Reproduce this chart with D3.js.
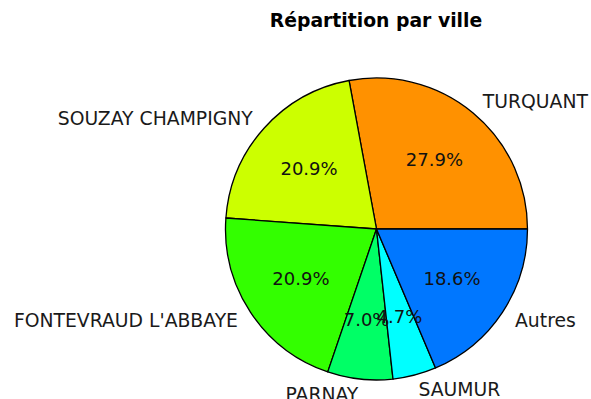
<!DOCTYPE html>
<html>
<head>
<meta charset="utf-8">
<script src="https://cdn.jsdelivr.net/npm/d3@7"></script>
<style>
  html, body { margin: 0; padding: 0; background: #fff; }
  svg { display: block; }
</style>
</head>
<body>
<svg id="chart" width="591" height="399"></svg>
<script>
// Number of records per town
const villes = ["TURQUANT", "SOUZAY CHAMPIGNY", "FONTEVRAUD L'ABBAYE", "PARNAY", "SAUMUR", "Autres"];
const effectifs = [12, 9, 9, 3, 2, 8];
const couleurs = ["#ff9100", "#ccff00", "#33ff00", "#00ff66", "#00ffff", "#0077ff"];
const titre = "Répartition par ville";

const svg = d3.select("#chart");
const cx = 376.5, cy = 229, r = 151;
const font = "DejaVu Sans, sans-serif";

svg.append("text")
  .attr("x", 376).attr("y", 27)
  .attr("text-anchor", "middle")
  .attr("font-family", font).attr("font-weight", "bold").attr("font-size", 18.8)
  .attr("fill", "#000")
  .text(titre);

// Slices run counter-clockwise starting at 3 o'clock
const pie = d3.pie().sort(null).value(d => d)
  .startAngle(Math.PI / 2).endAngle(Math.PI / 2 - 2 * Math.PI);
const arcs = pie(effectifs);
const total = d3.sum(effectifs);

const arc = d3.arc().innerRadius(0).outerRadius(r);
const g = svg.append("g").attr("transform", `translate(${cx},${cy})`);

g.selectAll("path").data(arcs).join("path")
  .attr("d", arc)
  .attr("fill", (d, i) => couleurs[i])
  .attr("stroke", "#000")
  .attr("stroke-width", 1.3)
  .attr("stroke-linejoin", "round");

const pos = (d, k) => {
  const a = (d.startAngle + d.endAngle) / 2; // d3 angle, clockwise from 12 o'clock
  return [k * r * Math.sin(a), -k * r * Math.cos(a)];
};

// Percentages inside the slices
g.selectAll("text.pct").data(arcs).join("text")
  .attr("class", "pct")
  .attr("x", d => pos(d, 0.6)[0])
  .attr("y", d => pos(d, 0.6)[1])
  .attr("text-anchor", "middle")
  .attr("dominant-baseline", "central")
  .attr("font-family", font).attr("font-size", 18)
  .attr("fill", "#111")
  .text(d => (100 * d.value / total).toFixed(1) + "%");

// Town names outside the pie
g.selectAll("text.lab").data(arcs).join("text")
  .attr("class", "lab")
  .attr("x", d => pos(d, 1.1)[0])
  .attr("y", d => pos(d, 1.1)[1])
  .attr("text-anchor", d => pos(d, 1.1)[0] > 0 ? "start" : "end")
  .attr("dominant-baseline", "central")
  .attr("font-family", font).attr("font-size", 18.8)
  .attr("fill", "#1a1a1a")
  .text((d, i) => villes[i]);
</script>
</body>
</html>
